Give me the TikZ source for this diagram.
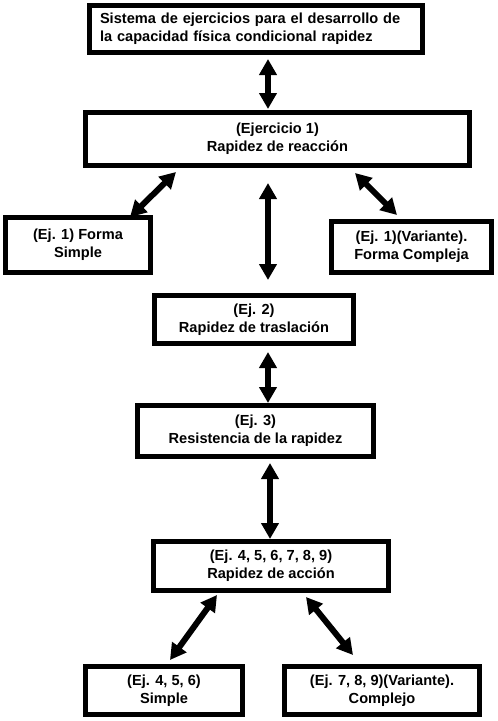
\documentclass[tikz,border=0pt]{standalone}
\usepackage{fontspec}
\setmainfont{Liberation Sans}
\usepackage{tikz}
\usetikzlibrary{arrows.meta}
\usetikzlibrary{positioning}

\begin{document}
\begin{tikzpicture}[x=1pt,y=-1pt,<->,>={Triangle[width=17pt,length=16pt]},line width=6pt,
  box node/.style={rectangle,draw,line width=5pt,fill=white,font=\fontsize{14.6}{18}\selectfont\bfseries,align=center,inner sep=2pt}]

  \useasboundingbox (0,0) rectangle (498,721);

  \node[box node,minimum width=333pt,minimum height=47pt,text width=312pt,align=left] (sistema) at (256,29) {Sistema de ejercicios para el desarrollo de\\la capacidad física condicional rapidez};
  \node[box node,minimum width=384pt,minimum height=53pt] (ejer1) at (277.5,139) {(Ejercicio 1)\\Rapidez de reacción};
  \node[box node,minimum width=145pt,minimum height=55pt] (ej1s) at (78,245) {(Ej. 1) Forma\\Simple};
  \node[box node,minimum width=160pt,minimum height=51pt] (ej1v) at (411.5,247) {(Ej. 1)(Variante).\\Forma Compleja};
  \node[box node,minimum width=199pt,minimum height=48pt] (ej2) at (254,319.5) {(Ej. 2)\\Rapidez de traslación};
  \node[box node,minimum width=236pt,minimum height=51pt] (ej3) at (255.5,431) {(Ej. 3)\\Resistencia de la rapidez};
  \node[box node,minimum width=235pt,minimum height=49pt] (ej4) at (271,566) {(Ej. 4, 5, 6, 7, 8, 9)\\Rapidez de acción};
  \node[box node,minimum width=157pt,minimum height=48pt] (ej456) at (164,690.5) {(Ej. 4, 5, 6)\\Simple};
  \node[box node,minimum width=195pt,minimum height=48pt] (ej789) at (382,690.5) {(Ej. 7, 8, 9)(Variante).\\Complejo};

  \path
    ([xshift=12pt,yshift=-4pt]sistema.south) edge ([xshift=-9.5pt,yshift=1pt]ejer1.north)
    ([xshift=-101.5pt,yshift=-4pt]ejer1.south) edge ([xshift=52pt,yshift=-2pt]ej1s.north)
    ([xshift=-9.5pt,yshift=-15pt]ejer1.south) edge ([xshift=14pt,yshift=13pt]ej2.north)
    ([xshift=77.5pt,yshift=-5pt]ejer1.south) edge ([xshift=-14.5pt,yshift=4pt]ej1v.north)
    ([xshift=14pt,yshift=-6pt]ej2.south) edge ([xshift=12.5pt]ej3.north)
    ([xshift=14.5pt,yshift=-4pt]ej3.south) edge ([xshift=-1pt]ej4.north)
    ([xshift=-54pt,yshift=-2pt]ej4.south) edge ([xshift=6pt,yshift=4pt]ej456.north)
    ([xshift=35pt,yshift=-4pt]ej4.south) edge ([xshift=-29pt,yshift=9pt]ej789.north);

\end{tikzpicture}
\end{document}
